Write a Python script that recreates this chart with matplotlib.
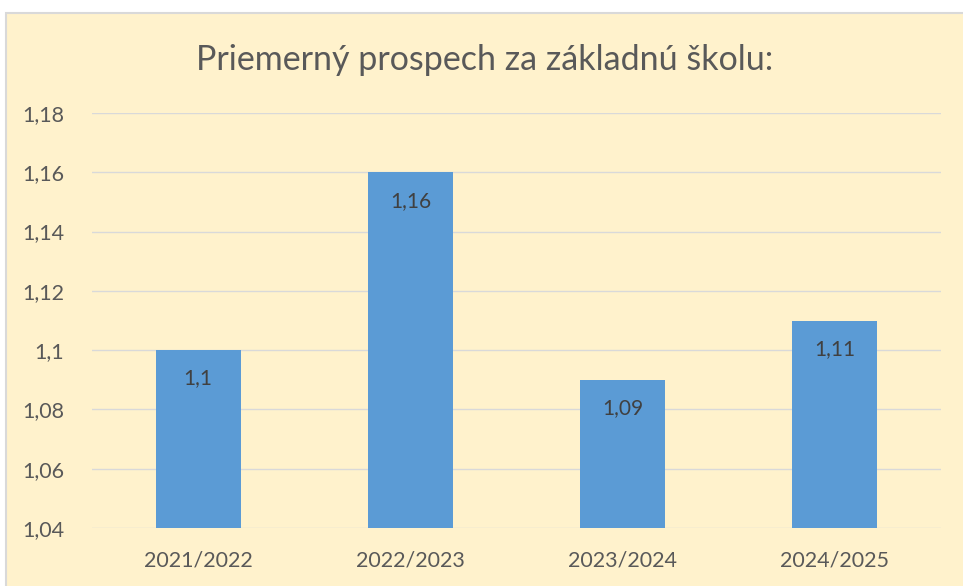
import matplotlib.pyplot as plt
from matplotlib.patches import Rectangle

# data
years = ['2021/2022', '2022/2023', '2023/2024', '2024/2025']
averages = [1.10, 1.16, 1.09, 1.11]
bar_labels = ['1,1', '1,16', '1,09', '1,11']
y_ticks = [1.04, 1.06, 1.08, 1.10, 1.12, 1.14, 1.16, 1.18]
y_tick_labels = ['1,04', '1,06', '1,08', '1,1', '1,12', '1,14', '1,16', '1,18']

plt.rcParams['font.family'] = ['Lato', 'DejaVu Sans']

bg = '#FFF2CC'
txt = '#595959'
grid = '#D9D9D9'

fig = plt.figure(figsize=(9.63, 5.86), dpi=100)
fig.patch.set_facecolor('white')

# chart area with light border
fig.patches.append(Rectangle((6 / 963, -0.01), 1.0, 1 - 13 / 586 + 0.01,
                             transform=fig.transFigure, facecolor=bg,
                             edgecolor=grid, linewidth=1.5, zorder=-10))

ax = fig.add_axes([92 / 963, 1 - 528 / 586, (941 - 92) / 963, (528 - 113) / 586])
ax.set_facecolor('none')

x = range(len(years))
bars = ax.bar(x, averages, width=0.4, color='#5B9BD5', zorder=2)
for rect, lab in zip(bars, bar_labels):
    ax.text(rect.get_x() + rect.get_width() / 2, rect.get_height() - 0.0062,
            lab, ha='center', va='top', fontsize=15, color='#404040', zorder=3)

ax.set_xlim(-0.5, len(years) - 0.5)
ax.set_ylim(1.04, 1.18)
ax.set_yticks(y_ticks)
ax.set_yticklabels(y_tick_labels)
ax.set_xticks(list(x))
ax.set_xticklabels(years)
ax.tick_params(length=0, colors=txt, labelsize=15.5)
ax.tick_params(axis='y', pad=20)
ax.tick_params(axis='x', pad=16)
ax.grid(axis='y', color=grid, linewidth=1, zorder=0)
ax.set_axisbelow(True)
for s in ax.spines.values():
    s.set_visible(False)

fig.text(0.5 + 3 / 963, 1 - 60 / 586, 'Priemerný prospech za základnú školu:',
         ha='center', va='center', fontsize=24.5, color=txt)

fig.savefig('out.png', dpi=100, facecolor=fig.get_facecolor())
